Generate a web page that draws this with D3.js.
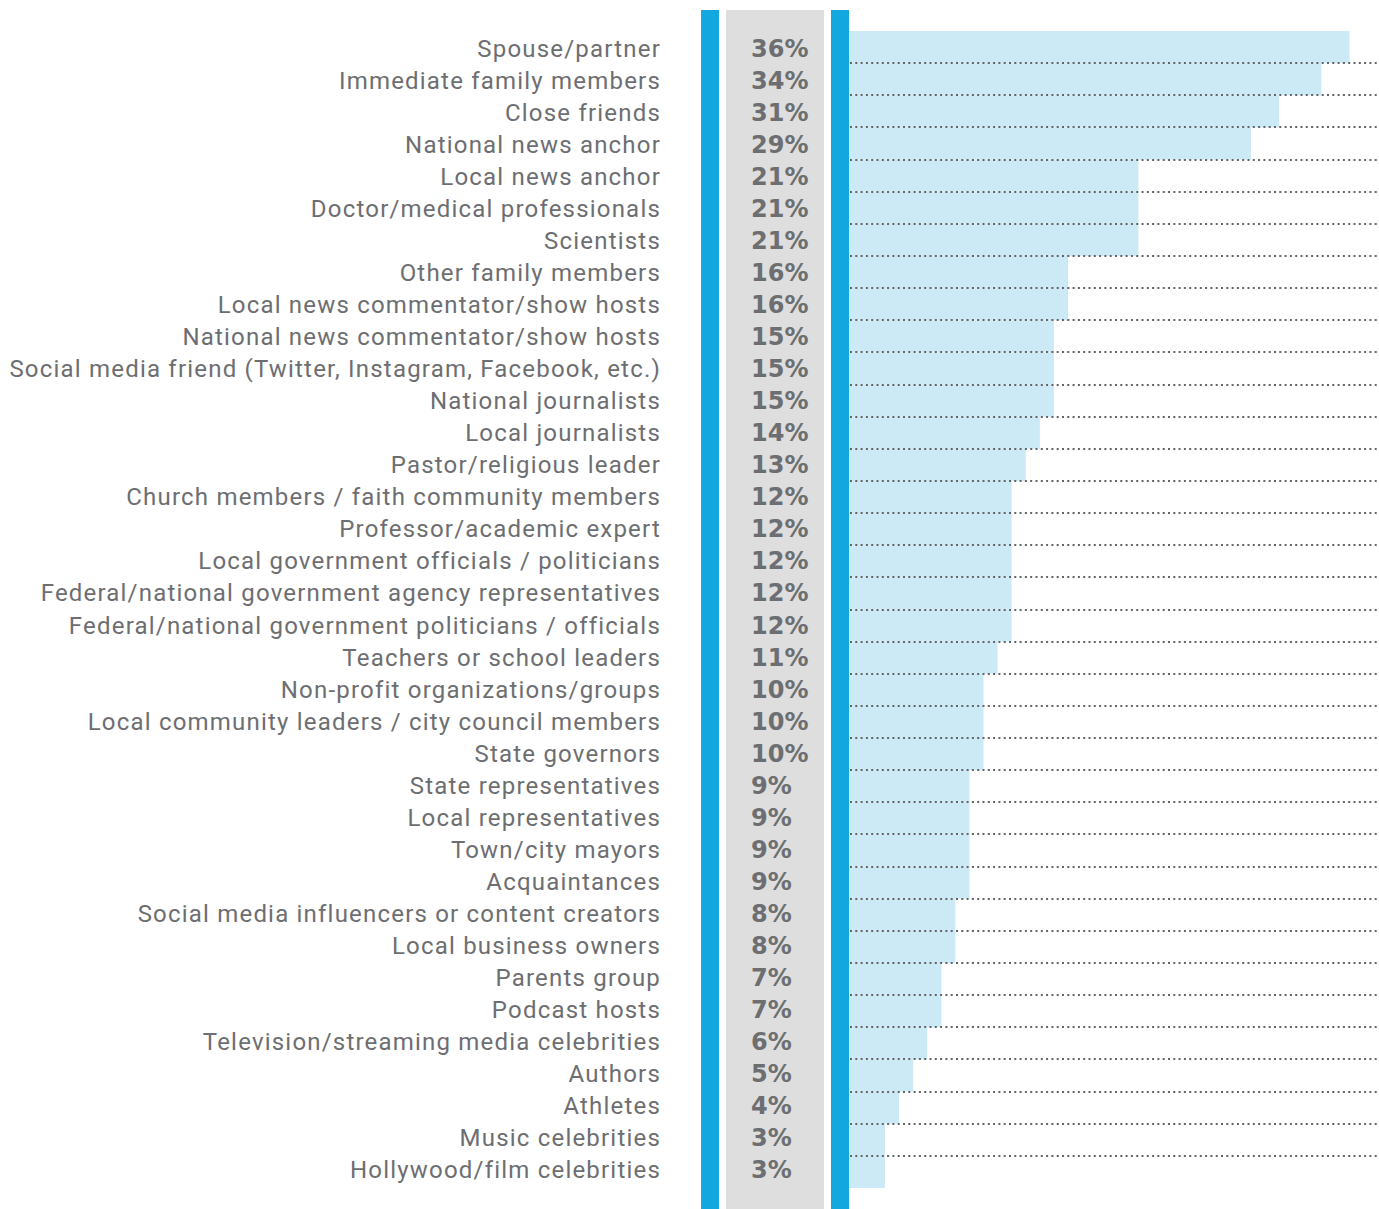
<!DOCTYPE html>
<html>
<head>
<meta charset="utf-8">
<script src="https://cdn.jsdelivr.net/npm/d3@7"></script>
<style>
  body { margin: 0; background: #fff; }
  .label { font-family: Roboto, "Noto Sans", sans-serif; font-size: 24px; letter-spacing: 1.2px; fill: #6d6e71; }
  .pct { font-family: "DejaVu Sans", sans-serif; font-size: 24px; font-weight: bold; fill: #6d6e71; }
</style>
</head>
<body>
<div class="chart"></div>
<script>
// Categories, top to bottom
var categories = [
  "Spouse/partner",
  "Immediate family members",
  "Close friends",
  "National news anchor",
  "Local news anchor",
  "Doctor/medical professionals",
  "Scientists",
  "Other family members",
  "Local news commentator/show hosts",
  "National news commentator/show hosts",
  "Social media friend (Twitter, Instagram, Facebook, etc.)",
  "National journalists",
  "Local journalists",
  "Pastor/religious leader",
  "Church members / faith community members",
  "Professor/academic expert",
  "Local government officials / politicians",
  "Federal/national government agency representatives",
  "Federal/national government politicians / officials",
  "Teachers or school leaders",
  "Non-profit organizations/groups",
  "Local community leaders / city council members",
  "State governors",
  "State representatives",
  "Local representatives",
  "Town/city mayors",
  "Acquaintances",
  "Social media influencers or content creators",
  "Local business owners",
  "Parents group",
  "Podcast hosts",
  "Television/streaming media celebrities",
  "Authors",
  "Athletes",
  "Music celebrities",
  "Hollywood/film celebrities"
];

// Percent values
var values = [36, 34, 31, 29, 21, 21, 21, 16, 16, 15, 15, 15, 14, 13, 12, 12, 12, 12, 12,
  11, 10, 10, 10, 9, 9, 9, 9, 8, 8, 7, 7, 6, 5, 4, 3, 3];

var data = categories.map(function(c, i) { return { name: c, value: values[i] }; });

var svgWidth = 1379;
var svgHeight = 1209;

var svg = d3.select(".chart")
  .append("svg")
  .attr("width", svgWidth)
  .attr("height", svgHeight);

// Row scale for bars
var yScale = d3.scaleBand()
  .domain(categories)
  .range([31, 1188])
  .padding(0);

// Baseline scale for the text columns
var textY = d3.scalePoint()
  .domain(categories)
  .range([57, 1178]);

// Bar length scale (bars start at the right edge of the second blue rule)
var xScale = d3.scaleLinear()
  .domain([0.44, 36])
  .range([849, 1349.5]);

// Decorative columns
svg.append("rect").attr("x", 701).attr("y", 10).attr("width", 18).attr("height", svgHeight - 10).attr("fill", "#12a7df");
svg.append("rect").attr("x", 726).attr("y", 10).attr("width", 98).attr("height", svgHeight - 10).attr("fill", "#dedede");
svg.append("rect").attr("x", 831).attr("y", 10).attr("width", 18).attr("height", svgHeight - 10).attr("fill", "#12a7df");

// Bars
svg.selectAll(".bar")
  .data(data)
  .enter().append("rect")
  .attr("class", "bar")
  .attr("x", xScale.range()[0])
  .attr("y", function(d) { return yScale(d.name); })
  .attr("width", function(d) { return xScale(d.value) - xScale.range()[0]; })
  .attr("height", yScale.bandwidth())
  .attr("fill", "#cceaf5");

// Dotted row separators
svg.selectAll(".sep")
  .data(categories.slice(1))
  .enter().append("line")
  .attr("class", "sep")
  .attr("x1", 850)
  .attr("x2", svgWidth)
  .attr("y1", function(d) { return Math.round(yScale(d)); })
  .attr("y2", function(d) { return Math.round(yScale(d)); })
  .attr("stroke", "#636468")
  .attr("stroke-width", 2)
  .attr("stroke-dasharray", "2,3.3");

// Category labels
svg.selectAll(".label")
  .data(data)
  .enter().append("text")
  .attr("class", "label")
  .attr("x", 661)
  .attr("y", function(d) { return textY(d.name); })
  .attr("text-anchor", "end")
  .text(function(d) { return d.name; });

// Percent labels
svg.selectAll(".pct")
  .data(data)
  .enter().append("text")
  .attr("class", "pct")
  .attr("x", 751)
  .attr("y", function(d) { return textY(d.name); })
  .text(function(d) { return d.value + "%"; });
</script>
</body>
</html>
